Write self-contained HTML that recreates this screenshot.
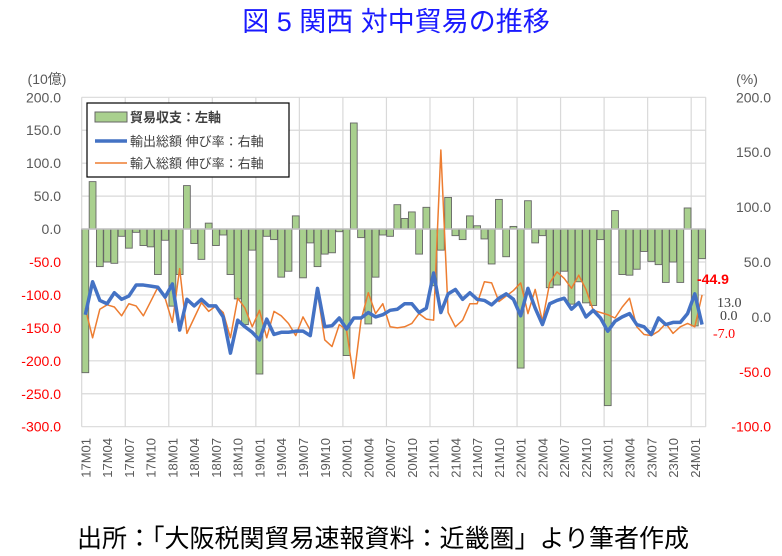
<!DOCTYPE html>
<html><head><meta charset="utf-8">
<style>
body{margin:0;background:#fff;width:782px;height:556px;overflow:hidden;font-family:"Liberation Sans","Noto Sans CJK JP",sans-serif}
svg{position:absolute;left:0;top:0}
</style></head><body>
<svg id="chart" width="782" height="556" viewBox="0 0 782 556" xmlns="http://www.w3.org/2000/svg">
<text x="396" y="31" text-anchor="middle" font-size="27" fill="#1a1aff" font-family="Liberation Sans, Noto Sans CJK JP, sans-serif">図 5 関西 対中貿易の推移</text>
<text x="47" y="84" text-anchor="middle" font-size="14" fill="#595959" font-family="Liberation Sans, Noto Sans CJK JP, sans-serif">(10億)</text>
<text x="747" y="84" text-anchor="middle" font-size="14" fill="#595959">(%)</text>
<g id="grid"></g>
<g id="bars"></g>
<g id="lines"></g>
<g id="axes"></g>
<g>
<rect x="87" y="103" width="202" height="74" fill="#fff" stroke="#000" stroke-width="1.2"/>
<rect x="95" y="112" width="32" height="10" fill="#a9d08e" stroke="#666"/>
<text x="130" y="122" font-size="13" font-weight="bold" fill="#404040" font-family="Liberation Sans, Noto Sans CJK JP, sans-serif">貿易収支：左軸</text>
<line x1="95" y1="141" x2="127" y2="141" stroke="#4472c4" stroke-width="3.5"/>
<text x="130" y="146" font-size="13" fill="#404040" font-family="Liberation Sans, Noto Sans CJK JP, sans-serif">輸出総額 伸び率：右軸</text>
<line x1="95" y1="163" x2="127" y2="163" stroke="#ed7d31" stroke-width="1.5"/>
<text x="130" y="168" font-size="13" fill="#404040" font-family="Liberation Sans, Noto Sans CJK JP, sans-serif">輸入総額 伸び率：右軸</text>
</g>
<text x="697" y="284" font-size="14" font-weight="bold" fill="#ff0000">-44.9</text>
<text x="717" y="307" font-size="14" fill="#404040" font-family="Liberation Serif, serif">13.0</text>
<text x="720" y="320" font-size="14" fill="#404040" font-family="Liberation Serif, serif">0.0</text>
<text x="713" y="338" font-size="14" fill="#ff0000" font-family="Liberation Serif, serif">-7.0</text>
<text x="383" y="547" text-anchor="middle" font-size="25" fill="#000" font-family="Liberation Sans, Noto Sans CJK JP, sans-serif">出所：「大阪税関貿易速報資料：近畿圏」より筆者作成</text>
</svg>
<script>
const balance=[-218,72,-57,-50,-52,-11,-29,-5,-25,-27,-69,-17,-117,-69,66,-22,-46,9,-25,-9,-69,-106,-145,-32,-220,-11,-16,-73,-64,20,-74,-21,-57,-38,-36,-4,-192,161,-13,-144,-73,-9,-11,37,16,26,-38,33,-86,-32,48,-10,-16,20,5,-15,-53,45,-42,4,-211,43,-21,-10,-89,-85,-64,-114,-80,-112,-116,-16,-268,28,-69,-70,-61,-34,-49,-54,-81,-50,-81,32,-147,-44.9];
const exportRate=[2,32,15,12,22,16,19,29,29,28,27,18,30,-12,16,10,16,10,10,0,-33,-3,-9,-14,-21,-2,-16,-14,-14,-13,-13,-17,26,-9,-8,-1,-11,-1,-1,4,0,2,6,7,12,12,4,8,40,4,21,25,16,22,16,15,11,17,21,16,1,26,8,-7,12,15,17,7,13,0,6,-1,-13,-4,0,3,-7,-9,-16,-1,-7,-5,-5,3,21,-7];
const importRate=[8,-19,7,11,9,1,12,10,1,14,27,17,-5,44,-15,-1,13,5,10,4,-19,17,8,-9,6,-19,5,1,-6,-17,0,-12,22,-21,-27,-7,-12,-56,-3,22,3,12,-9,-10,-9,-6,3,-2,-3,152,4,-9,-3,12,12,32,31,14,19,24,31,3,25,-4,31,41,35,26,38,25,6,4,2,-1,9,17,-9,-16,-17,-13,-6,-15,-9,-6,-9,20];
const yearLabels=["17","18","19","20","21","22","23","24"];
const leftTicks=[200,150,100,50,0,-50,-100,-150,-200,-250,-300];
const rightTicks=[200,150,100,50,0,-50,-100];
const NS="http://www.w3.org/2000/svg";
const X0=81.7,X1=705.7,YT=97.3,YB=426.7,n=balance.length,step=(X1-X0)/n;
const xC=i=>X0+step*(i+0.5);
const yL=v=>YT+(200-v)/500*(YB-YT);
const yR=v=>YT+(200-v)/300*(YB-YT);
function mk(tag,attrs,parent){const e=document.createElementNS(NS,tag);for(const k in attrs)e.setAttribute(k,attrs[k]);parent.appendChild(e);return e;}
const grid=document.getElementById('grid'),bars=document.getElementById('bars'),lines=document.getElementById('lines'),axes=document.getElementById('axes');
leftTicks.forEach(v=>{
 const l=mk('line',{x1:X0,x2:X1,y1:yL(v),y2:yL(v),stroke:'#d9d9d9','stroke-width':1.2},grid);
 
 
 const t=mk('text',{x:61,y:yL(v)+5,'text-anchor':'end','font-size':14,fill:v<0?'#ff0000':'#595959'},axes);
 t.textContent=v.toFixed(1);
 
 
});
rightTicks.forEach(v=>{
 const t=mk('text',{x:771,y:yR(v)+5,'text-anchor':'end','font-size':14,fill:v<0?'#ff0000':'#595959'},axes);
 t.textContent=v.toFixed(1);
 
 
});
for(let i=0;i<=n;i+=6){
 const x=X0+step*i;
 const l=mk('line',{x1:x,x2:x,y1:YT,y2:YB,stroke:'#d9d9d9','stroke-width':1.2},grid);
 
 
}
mk('line',{x1:X1,x2:X1,y1:YT,y2:YB,stroke:'#d9d9d9','stroke-width':1.2},grid);
balance.forEach((v,i)=>{
 const y0=yL(0),y=yL(v);
 const r=mk('rect',{x:xC(i)-3.4,y:Math.min(y0,y),width:6.8,height:Math.abs(y-y0),fill:'#a9d08e',stroke:'#666','stroke-width':0.9},bars);
 
 
});
const zl=mk('line',{x1:X0,x2:X1,y1:yL(0),y2:yL(0),stroke:'#bfbfbf','stroke-width':1.5},bars);


const ip=mk('polyline',{points:importRate.map((v,i)=>xC(i)+','+yR(v)).join(' '),fill:'none',stroke:'#ed7d31','stroke-width':1.5,'stroke-linejoin':'round'},lines);


const ep=mk('polyline',{points:exportRate.map((v,i)=>xC(i)+','+yR(v)).join(' '),fill:'none',stroke:'#4472c4','stroke-width':3.5,'stroke-linejoin':'round'},lines);


for(let i=0;i<n;i+=3){
 const lab=yearLabels[Math.floor(i/12)]+'M'+String(i%12+1).padStart(2,'0');
 const x=xC(i)+5,y=438;
 const t=mk('text',{x:x,y:y,'text-anchor':'end','font-size':13,fill:'#595959',transform:'rotate(-90 '+x+' '+y+')'},axes);
 t.textContent=lab;
 
 
}
</script>
</body></html>
